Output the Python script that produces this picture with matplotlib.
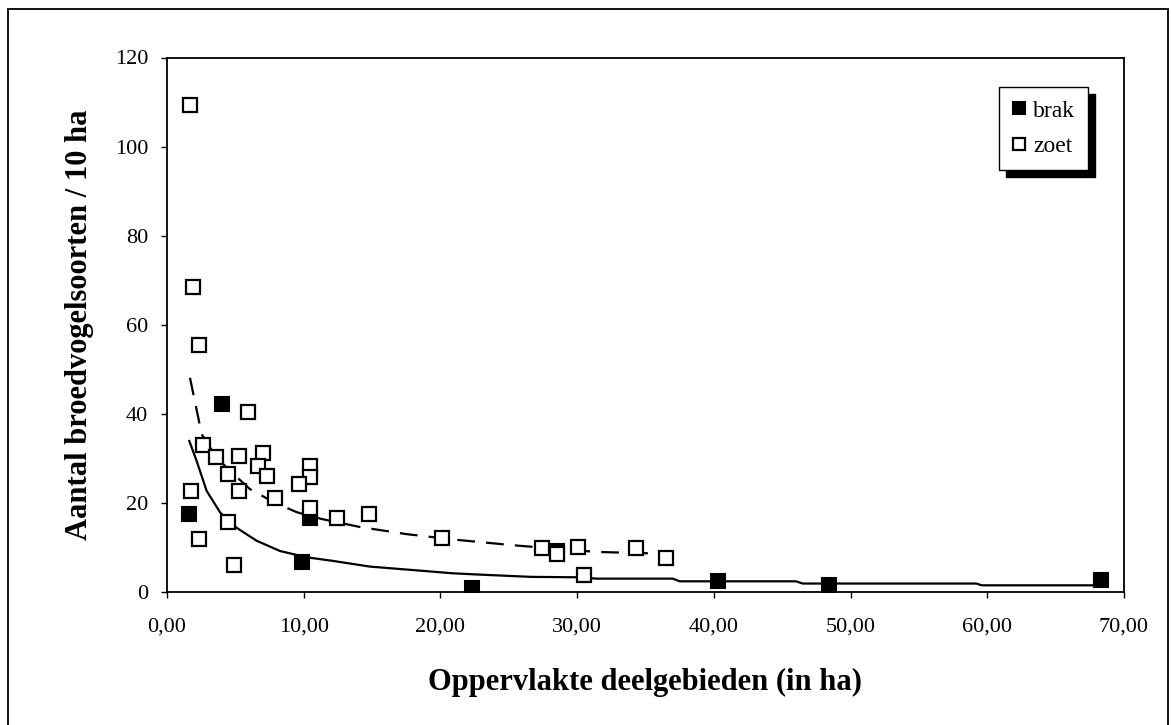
import matplotlib
matplotlib.use("Agg")
import matplotlib.pyplot as plt
from matplotlib.patches import Rectangle

# brak (filled squares)
brak_x = [1.63, 4.05, 9.85, 10.46, 22.3, 28.55, 40.3, 48.4, 68.3]
brak_y = [17.6, 42.3, 6.7, 16.6, 1.0, 9.3, 2.4, 1.5, 2.7]

# zoet (open squares)
zoet_x = [1.68, 1.93, 2.34, 5.95, 2.66, 3.56, 5.24, 7.0, 6.68, 7.34, 4.46, 10.46,
          10.46, 9.68, 1.78, 5.24, 7.9, 10.46, 12.4, 4.46, 2.36, 4.92, 14.8, 20.14,
          27.4, 28.55, 30.04, 34.3, 36.5, 30.5]
zoet_y = [109.3, 68.5, 55.5, 40.4, 33.0, 30.3, 30.5, 31.2, 28.4, 26.1, 26.5, 28.4,
          25.9, 24.2, 22.6, 22.6, 21.2, 18.9, 16.6, 15.7, 11.8, 6.0, 17.5, 12.2,
          9.8, 8.6, 10.2, 9.9, 7.6, 3.8]

# trend lines
brak_fit_x = [1.63, 2.17, 2.9, 3.9, 5.1, 6.56, 8.27, 10.2, 12.1, 14.85, 18.5, 20.9,
              22.9, 26.6, 30.2, 31.4, 37.0, 37.5, 46.0, 46.5, 59.2, 59.6, 68.3]
brak_fit_y = [33.9, 29.4, 22.7, 17.8, 14.4, 11.5, 9.2, 7.8, 7.0, 5.7, 4.8, 4.2,
              3.9, 3.4, 3.3, 3.0, 3.0, 2.4, 2.4, 1.9, 1.9, 1.5, 1.5]
zoet_fit_x = [1.68, 2.54, 3.63, 4.6, 6.07, 7.78, 9.5, 11.3, 14.1, 17.5, 20.9, 25.3,
              31.4, 36.3]
zoet_fit_y = [48.1, 35.4, 30.2, 27.2, 23.1, 20.2, 17.9, 16.4, 14.6, 13.0, 11.8, 10.5,
              9.0, 8.6]

xticks = [0, 10, 20, 30, 40, 50, 60, 70]
yticks = [0, 20, 40, 60, 80, 100, 120]

plt.rcParams['font.family'] = ['Liberation Serif', 'DejaVu Serif']

fig = plt.figure(figsize=(11.71, 7.25), dpi=100)
ax = fig.add_axes([167/1171, 1-592/725, (1124-167)/1171, (592-57.5)/725])

ax.plot(brak_fit_x, brak_fit_y, color='black', lw=1.6, zorder=2)
ax.plot(zoet_fit_x, zoet_fit_y, color='black', lw=1.6, dashes=(8, 5), zorder=2)
ax.plot(brak_x, brak_y, 's', ms=10, mfc='black', mec='black', mew=1.5,
        ls='none', label='brak', zorder=3)
ax.plot(zoet_x, zoet_y, 's', ms=10, mfc='white', mec='black', mew=1.6,
        ls='none', label='zoet', zorder=4)

ax.set_xlim(0, 70)
ax.set_ylim(0, 120)
ax.set_xticks(xticks)
ax.set_xticklabels(['%d,00' % v for v in xticks])
ax.set_yticks(yticks)
ax.tick_params(direction='out', length=4.5, width=1, labelsize=16)
ax.tick_params(axis='x', pad=14)
ax.tick_params(axis='y', pad=9)
for s in ax.spines.values():
    s.set_linewidth(1.3)

ax.set_xlabel('Oppervlakte deelgebieden (in ha)', fontsize=22, fontweight='bold')
ax.set_ylabel('Aantal broedvogelsoorten / 10 ha', fontsize=22, fontweight='bold')
ax.xaxis.set_label_coords(0.5, -(668 - 592) / 534.5)
ax.yaxis.set_label_coords((94 - 167) / 957, 0.5)

leg = ax.legend(loc='upper right', bbox_to_anchor=((1088-167)/957, 1-(87-57.5)/534.5),
                borderaxespad=0, fontsize=17, frameon=True, fancybox=False,
                shadow={'color': 'black', 'alpha': 1, 'ox': 5, 'oy': -5},
                handlelength=0.6, handletextpad=0.3, borderpad=0.55, labelspacing=0.6,
                markerscale=0.8)
leg.get_frame().set_edgecolor('black')
leg.get_frame().set_linewidth(1.0)

# outer frame (bottom edge falls outside the picture)
fig.patches.append(Rectangle((8/1171, -0.05), 1160/1171, 1.05 - 9/725,
                             transform=fig.transFigure, fill=False,
                             edgecolor='black', lw=1.3))

fig.savefig('out.png', dpi=100)
